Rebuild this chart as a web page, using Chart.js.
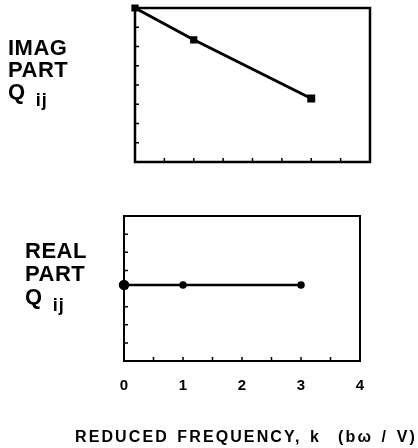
<!DOCTYPE html>
<html>
<head>
<meta charset="utf-8">
<script src="https://cdn.jsdelivr.net/npm/chart.js@4.4.1/dist/chart.umd.min.js"></script>
<style>
html, body { margin: 0; padding: 0; background: #fff; }
body { width: 418px; height: 448px; position: relative; overflow: hidden;
       font-family: "Liberation Sans", Arial, sans-serif; font-weight: bold; color: #000; }
.box { position: absolute; left: 0; width: 418px; }
#boxTop { top: 0; height: 175px; }
#boxBottom { top: 190px; height: 240px; }
.lbl { position: absolute; font-size: 22px; line-height: 22px; letter-spacing: 0.5px; white-space: nowrap; }
.lbl .sub { font-size: 18px; position: relative; top: 7px; margin-left: 10px; letter-spacing: 1px; }
#xTitle { position: absolute; left: 75px; top: 428px; font-size: 16px; letter-spacing: 2.1px; word-spacing: 2px; white-space: nowrap; }
</style>
</head>
<body>
<div class="box" id="boxTop"><canvas id="grafTopo" width="418" height="175"></canvas></div>
<div class="box" id="boxBottom"><canvas id="grafBaixo" width="418" height="240"></canvas></div>

<div class="lbl" style="left:8px; top:37px;">IMAG<br>PART<br>Q<span class="sub">ij</span></div>
<div class="lbl" style="left:25px; top:239px; line-height:23px;">REAL<br>PART<br>Q<span class="sub">ij</span></div>
<div id="xTitle">REDUCED FREQUENCY, k&nbsp; (bω / V)</div>

<script>
// dados
const freqImag = [0, 1, 3];
const valoresImag = [8, 6.35, 3.3];
const freqReal = [0, 1, 3];
const valoresReal = [4.2, 4.2, 4.2];
const xTickLabels = ['0', '1', '2', '3', '4'];
const xTickValores = [0, 0.5, 1, 1.5, 2, 2.5, 3, 3.5, 4];
const yTickValores = [0, 1, 2, 3, 4, 5, 6, 7, 8];

const fonte = '"Liberation Sans", Arial, sans-serif';

const fixarX = s => { s.ticks = xTickValores.map(v => ({ value: v })); };
const fixarY = s => { s.ticks = yTickValores.map(v => ({ value: v })); };

// moldura e marcas internas
const moldura = {
    id: 'moldura',
    beforeDatasetsDraw(chart, args, opts) {
        const { ctx, chartArea: a, scales } = chart;
        ctx.save();
        ctx.strokeStyle = '#000';
        ctx.lineWidth = opts.lineWidth || 2;
        ctx.strokeRect(a.left, a.top, a.right - a.left, a.bottom - a.top);
        ctx.lineWidth = 1.5;
        ctx.beginPath();
        scales.x.ticks.forEach(t => {
            const px = scales.x.getPixelForValue(t.value);
            ctx.moveTo(px, a.bottom);
            ctx.lineTo(px, a.bottom - 4);
        });
        scales.y.ticks.forEach(t => {
            const py = scales.y.getPixelForValue(t.value);
            ctx.moveTo(a.left, py);
            ctx.lineTo(a.left + 4, py);
        });
        ctx.stroke();
        ctx.restore();
    }
};

const graficoTopo = new Chart(document.getElementById('grafTopo'), {
    type: 'line',
    data: {
        datasets: [{
            data: freqImag.map((k, i) => ({ x: k, y: valoresImag[i] })),
            borderColor: '#000',
            backgroundColor: '#000',
            borderWidth: 3,
            pointStyle: 'rect',
            pointRadius: [3, 3, 3.5],
            clip: false
        }]
    },
    options: {
        responsive: false,
        devicePixelRatio: 1,
        animation: false,
        layout: { padding: { left: 135, top: 8, right: 48, bottom: 13 } },
        plugins: { legend: { display: false }, tooltip: { enabled: false }, moldura: { lineWidth: 2.5 } },
        scales: {
            x: { type: 'linear', min: 0, max: 4, display: false, afterBuildTicks: fixarX },
            y: { min: 0, max: 8, display: false, afterBuildTicks: fixarY }
        }
    },
    plugins: [moldura]
});

const graficoBaixo = new Chart(document.getElementById('grafBaixo'), {
    type: 'line',
    data: {
        datasets: [{
            data: freqReal.map((k, i) => ({ x: k, y: valoresReal[i] })),
            borderColor: '#000',
            backgroundColor: '#000',
            borderWidth: 2.5,
            pointRadius: [4, 2.5, 2.5],
            clip: false
        }]
    },
    options: {
        responsive: false,
        devicePixelRatio: 1,
        animation: false,
        layout: { padding: { left: 124, top: 26, right: 58, bottom: 19 } },
        plugins: { legend: { display: false }, tooltip: { enabled: false }, moldura: { lineWidth: 2 } },
        scales: {
            x: {
                type: 'linear', min: 0, max: 4,
                afterBuildTicks: fixarX,
                grid: { display: false, drawTicks: false, tickLength: 0 },
                border: { display: false },
                ticks: {
                    padding: 16, autoSkip: false, maxRotation: 0,
                    color: '#000',
                    font: { family: fonte, size: 15, weight: 'bold' },
                    callback: v => Number.isInteger(v) ? xTickLabels[v] : ''
                }
            },
            y: { min: 0, max: 8, display: false, afterBuildTicks: fixarY }
        }
    },
    plugins: [moldura]
});
</script>
</body>
</html>
